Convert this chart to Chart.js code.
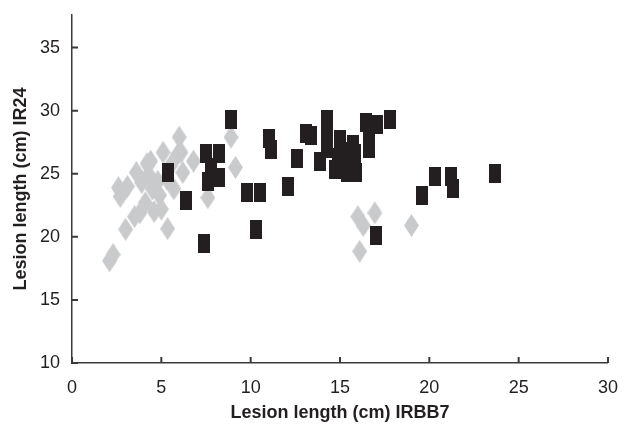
<!DOCTYPE html>
<html>
<head>
<meta charset="utf-8">
<script src="https://cdn.jsdelivr.net/npm/chart.js@4"></script>
<style>
  body { margin: 0; background: #fff; }
  #wrap { width: 624px; height: 424px; }
</style>
</head>
<body>
<div id="wrap"><canvas id="lesionChart"></canvas></div>
<script>
// gray diamonds
const grayIRBB7 = [2.1, 2.3, 2.6, 2.7, 3.1, 3.0, 3.5, 3.6, 3.8, 3.9, 4.1, 4.2, 4.3, 4.4, 4.5, 4.6, 4.8, 4.9, 5.0, 5.1, 5.3, 5.35, 5.5, 5.7, 5.9, 6.0, 6.1, 6.2, 6.8, 7.6, 8.9, 9.15, 16.0, 16.3, 16.95, 16.1, 19.0];
const grayIR24 = [18.1, 18.6, 23.9, 23.2, 24.0, 20.6, 21.6, 25.1, 21.9, 24.3, 22.7, 25.8, 24.9, 26.0, 23.8, 22.0, 24.4, 23.3, 22.2, 26.7, 24.6, 20.65, 25.6, 23.8, 26.5, 27.9, 26.7, 25.1, 26.0, 23.1, 27.9, 25.5, 21.6, 20.9, 21.9, 18.85, 20.9];

// black squares
const blackIRBB7 = [5.4, 6.4, 7.4, 7.5, 8.2, 7.6, 8.2, 7.8, 8.9, 9.8, 10.5, 10.3, 11.0, 11.15, 12.1, 12.6, 13.1, 13.4, 13.9, 14.3, 14.3, 14.3, 14.7, 14.9, 15.0, 15.2, 15.4, 15.5, 15.7, 15.9, 15.85, 16.45, 16.6, 16.65, 17.05, 17.8, 17.0, 19.6, 20.3, 21.2, 21.35, 23.65];
const blackIR24 = [25.1, 22.9, 19.5, 26.6, 26.6, 24.4, 24.7, 25.5, 29.3, 23.5, 23.5, 20.6, 27.8, 26.9, 24.0, 26.2, 28.2, 28.0, 26.0, 29.3, 28.0, 27.0, 25.3, 26.3, 27.7, 26.0, 25.1, 26.8, 27.3, 25.1, 26.6, 29.1, 27.6, 27.0, 28.9, 29.3, 20.1, 23.3, 24.8, 24.8, 23.8, 25.0];

const xTicks = [0, 5, 10, 15, 20, 25, 30];
const yTicks = [10, 15, 20, 25, 30, 35];

function toPoints(xs, ys) {
  return xs.map(function (x, i) { return { x: x, y: ys[i] }; });
}

function markerDiamond() {
  const c = document.createElement("canvas");
  c.width = 15; c.height = 23;
  const g = c.getContext("2d");
  g.fillStyle = "#c9cacc";
  g.beginPath();
  g.moveTo(7.5, 0); g.lineTo(15, 11.5); g.lineTo(7.5, 23); g.lineTo(0, 11.5);
  g.closePath();
  g.fill();
  return c;
}

function markerSquare() {
  const c = document.createElement("canvas");
  c.width = 12; c.height = 19;
  const g = c.getContext("2d");
  g.fillStyle = "#231f20";
  g.fillRect(0, 0, 12, 19);
  return c;
}

// ticks pointing into the plot
const innerTicks = {
  id: "innerTicks",
  afterDraw: function (chart) {
    const ctx = chart.ctx;
    const x = chart.scales.x, y = chart.scales.y;
    const area = chart.chartArea;
    ctx.save();
    ctx.strokeStyle = "#3a3a3a";
    ctx.lineWidth = 2;
    ctx.beginPath();
    xTicks.forEach(function (v) {
      const px = x.getPixelForValue(v);
      ctx.moveTo(px, area.bottom);
      ctx.lineTo(px, area.bottom - 6);
    });
    yTicks.forEach(function (v) {
      const py = y.getPixelForValue(v);
      ctx.moveTo(area.left, py);
      ctx.lineTo(area.left + 6, py);
    });
    ctx.stroke();
    ctx.restore();
  }
};

const tickFont = { family: "'Liberation Sans', Arial, sans-serif", size: 18 };
const titleFont = { family: "'Liberation Sans', Arial, sans-serif", size: 18, weight: "bold" };

new Chart(document.getElementById("lesionChart"), {
  type: "scatter",
  data: {
    datasets: [
      {
        label: "black",
        data: toPoints(blackIRBB7, blackIR24),
        pointStyle: markerSquare(),
        order: 0,
      },
      {
        label: "gray",
        data: toPoints(grayIRBB7, grayIR24),
        pointStyle: markerDiamond(),
        order: 1,
      },
    ],
  },
  options: {
    responsive: true,
    maintainAspectRatio: false,
    animation: false,
    layout: { padding: { top: 13, right: 14, left: 0, bottom: 0 } },
    plugins: {
      legend: { display: false },
      tooltip: { enabled: false },
    },
    scales: {
      x: {
        type: "linear",
        min: 0,
        max: 30,
        afterBuildTicks: function (scale) {
          scale.ticks = xTicks.map(function (v) { return { value: v }; });
        },
        afterFit: function (scale) { scale.height = 61; },
        grid: { display: false },
        border: { display: true, color: "#3a3a3a", width: 1.5 },
        ticks: { color: "#231f20", font: tickFont, padding: 6, maxRotation: 0 },
        title: {
          display: true,
          text: "Lesion length (cm) IRBB7",
          color: "#231f20",
          font: titleFont,
          padding: { top: 0, bottom: 0 },
        },
      },
      y: {
        type: "linear",
        min: 10,
        max: 37.6,
        afterBuildTicks: function (scale) {
          scale.ticks = yTicks.map(function (v) { return { value: v }; });
        },
        afterFit: function (scale) { scale.width = 72; },
        grid: { display: false },
        border: { display: true, color: "#3a3a3a", width: 1.5 },
        ticks: { color: "#231f20", font: tickFont, padding: 4 },
        title: {
          display: true,
          text: "Lesion length (cm) IR24",
          color: "#231f20",
          font: titleFont,
          padding: { top: 10, bottom: 0 },
        },
      },
    },
  },
  plugins: [innerTicks],
});
</script>
</body>
</html>
